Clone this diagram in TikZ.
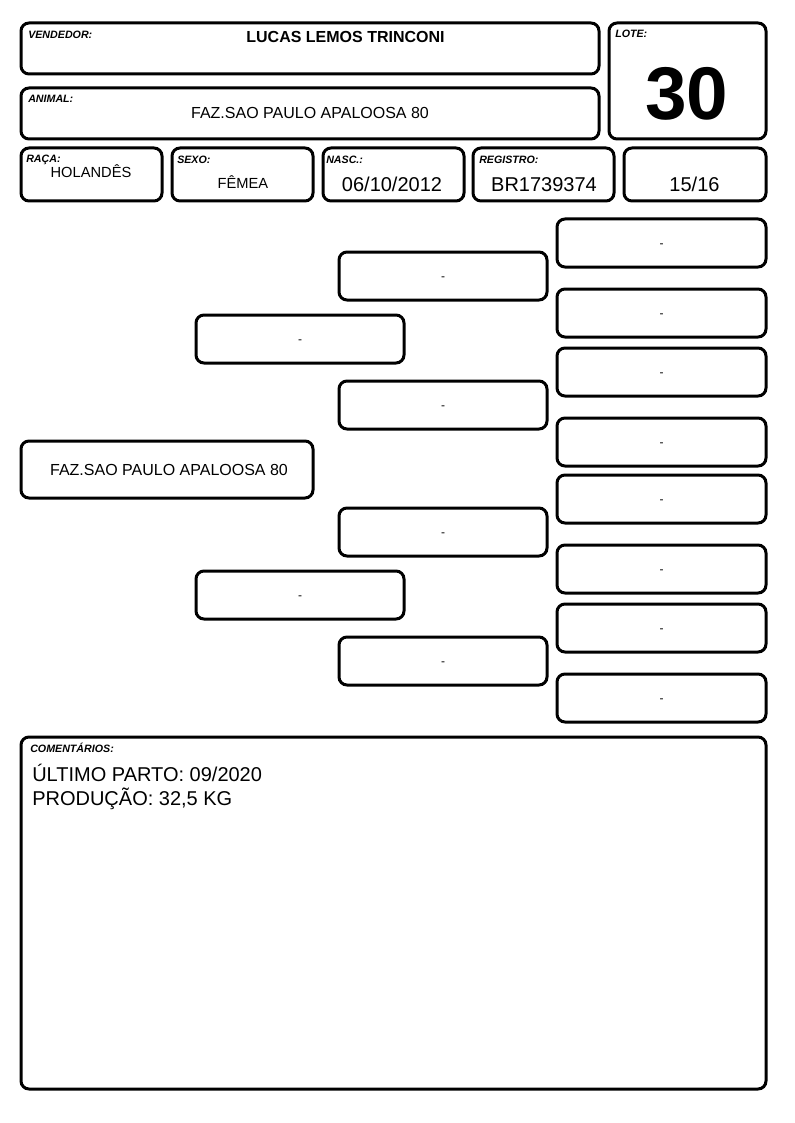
\documentclass[tikz,border=0pt]{standalone}
\usepackage{fontspec}
\setmainfont{Liberation Sans}
\usetikzlibrary{fit}
\tikzset{
  box/.style={draw=black, line width=2.25pt, rounded corners=6pt, inner sep=0pt, outer sep=0pt},
  lbl/.style={anchor=base west, inner sep=0pt, font=\fontsize{8}{9}\selectfont\bfseries\itshape},
  val/.style={anchor=base, inner sep=0pt, font=\fontsize{11}{13}\selectfont},
  big/.style={anchor=base, inner sep=0pt, font=\fontsize{15}{18}\selectfont},
  dashtxt/.style={anchor=center, yshift=-2.25pt, inner sep=0pt, font=\fontsize{9}{10}\selectfont},
}
\begin{document}
\begin{tikzpicture}[x=0.75pt,y=-0.75pt]
\useasboundingbox[fill=white] (0,0) rectangle (794,1123);
% header
\node[box, fit={(21,23) (599,74)}] (vend) {};
\node[box, fit={(21,88) (599,139)}] (anim) {};
\node[box, fit={(609,23) (766,139)}] (lote) {};
\node[box, fit={(21,148) (162,201)}] (raca) {};
\node[box, fit={(172,148) (313,201)}] (sexo) {};
\node[box, fit={(323,148) (464,201)}] (nasc) {};
\node[box, fit={(473,148) (614,201)}] (reg) {};
\node[box, fit={(624,148) (766,201)}] (grau) {};
\node[lbl] (vendl) at (28,39) {VENDEDOR:};
\node[anchor=base, inner sep=0pt, font=\fontsize{12}{14}\selectfont\bfseries] (vendv) at (345.5,43) {LUCAS LEMOS TRINCONI};
\node[lbl] (animl) at (28,103) {ANIMAL:};
\node[anchor=base, inner sep=0pt, font=\fontsize{12}{14}\selectfont] (animv) at (310,119) {FAZ.SAO PAULO APALOOSA 80};
\node[lbl] (lotel) at (615,38) {LOTE:};
\node[anchor=base, inner sep=0pt, font=\fontsize{56}{60}\selectfont\bfseries] (lotev) at (687,120) {30};
\node[lbl] (racal) at (26,163) {RAÇA:};
\node[val] (racav) at (91,178) {HOLANDÊS};
\node[lbl] (sexol) at (177,164) {SEXO:};
\node[val] (sexov) at (243,189) {FÊMEA};
\node[lbl] (nascl) at (326,164) {NASC.:};
\node[big] (nascv) at (392,192) {06/10/2012};
\node[lbl] (regl) at (479,164) {REGISTRO:};
\node[big] (regv) at (544,192) {BR1739374};
\node[big] (grauv) at (694.5,192) {15/16};
% pedigree
\node[box, fit={(21,441) (313,498)}] (p0) {};
\node[anchor=center, inner sep=0pt, font=\fontsize{12}{14}\selectfont] (p0t) at (169,470) {FAZ.SAO PAULO APALOOSA 80};
\node[box, fit={(196,315) (404,363)}] (g1) {};
\node[box, fit={(196,571) (404,619)}] (g2) {};
\node[box, fit={(339,252) (547,300)}] (m1) {};
\node[box, fit={(339,381) (547,429)}] (m2) {};
\node[box, fit={(339,508) (547,556)}] (m3) {};
\node[box, fit={(339,637) (547,685)}] (m4) {};
\node[box, fit={(557,219) (766,267)}] (r1) {};
\node[box, fit={(557,289) (766,337)}] (r2) {};
\node[box, fit={(557,348) (766,396)}] (r3) {};
\node[box, fit={(557,418) (766,466)}] (r4) {};
\node[box, fit={(557,475) (766,523)}] (r5) {};
\node[box, fit={(557,545) (766,593)}] (r6) {};
\node[box, fit={(557,604) (766,652)}] (r7) {};
\node[box, fit={(557,674) (766,722)}] (r8) {};
\foreach \n in {g1,g2,m1,m2,m3,m4,r1,r2,r3,r4,r5,r6,r7,r8}
  \node[dashtxt] (\n t) at (\n.center) {-};
% comments
\node[box, fit={(21,737) (766,1089)}] (com) {};
\node[lbl] (coml) at (30,752) {COMENTÁRIOS:};
\node[anchor=base west, inner sep=0pt, font=\fontsize{15}{18}\selectfont] (c1) at (32,781) {ÚLTIMO PARTO: 09/2020};
\node[anchor=base west, inner sep=0pt, font=\fontsize{15}{18}\selectfont] (c2) at (32,805) {PRODUÇÃO: 32,5 KG};
\end{tikzpicture}
\end{document}
